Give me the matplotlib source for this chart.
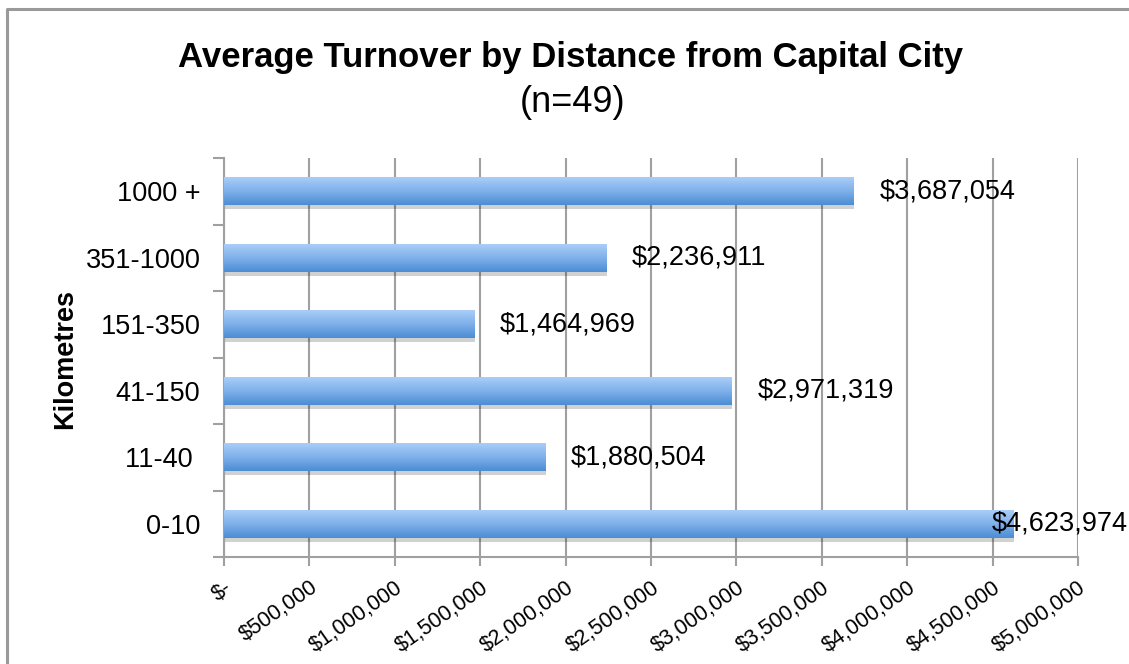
import numpy as np
import matplotlib
matplotlib.use("Agg")
from matplotlib import pyplot as plt
from matplotlib.colors import LinearSegmentedColormap
from matplotlib.ticker import FixedLocator, FuncFormatter
import matplotlib.patheffects as pe
from matplotlib.lines import Line2D

#####################################################################
# Data
#####################################################################

categories = ["0-10", "11-40 ", "41-150", "151-350", "351-1000", "1000 +"]
turnover = [4623974, 1880504, 2971319, 1464969, 2236911, 3687054]
xticks = [0, 500000, 1000000, 1500000, 2000000, 2500000, 3000000,
          3500000, 4000000, 4500000, 5000000]

plt.rcParams["font.family"] = ["Liberation Sans", "DejaVu Sans"]

fig = plt.figure(figsize=(11.29, 6.64), dpi=100)
ax = fig.add_axes([224 / 1129, 1 - 557 / 664, (1078 - 224) / 1129, (557 - 158) / 664])

y = np.arange(len(categories))
bh = 0.42
grad = LinearSegmentedColormap.from_list("g", ["#4b8dd4", "#7fb0ea", "#a9cdf8"])

bars = ax.barh(y, turnover, height=bh, color="#7aaee8", zorder=3,
               path_effects=[pe.SimplePatchShadow(offset=(0.5, -3), shadow_rgbFace="#000000", alpha=0.18),
                             pe.Normal()])
g = np.linspace(0, 1, 64).reshape(-1, 1)
for b, v, yi in zip(bars, turnover, y):
    im = ax.imshow(g, cmap=grad, origin="lower", aspect="auto", zorder=4,
                   extent=(0, v, yi - bh / 2, yi + bh / 2), interpolation="bilinear")
    im.set_clip_path(b)

    if v > 4300000:
        dx = -22
    else:
        dx = 26
    ax.annotate("${:,}".format(v), xy=(v, yi), xytext=(dx * 0.72, 0),
                textcoords="offset points", ha="left", va="center",
                fontsize=19.5, zorder=6, annotation_clip=False)

ax.set_xlim(0, 5000000)
ax.set_ylim(-0.5, len(categories) - 0.5)

# x axis
ax.xaxis.set_major_locator(FixedLocator(xticks))
ax.xaxis.set_major_formatter(FuncFormatter(lambda v, p: "$-" if v == 0 else "${:,.0f}".format(v)))
ax.tick_params(axis="x", which="major", length=6.5, width=1.5, color="#a0a0a0",
               labelsize=15.5, pad=8)
plt.setp(ax.get_xticklabels(), rotation=35, ha="right", va="top", rotation_mode="anchor")
ax.grid(True, axis="x", color="#a0a0a0", linewidth=1.5, zorder=0)
ax.set_axisbelow(True)

# y axis
ax.set_yticks(y)
ax.set_yticklabels(categories)
ax.yaxis.set_minor_locator(FixedLocator(np.arange(-0.5, len(categories), 1.0)))
ax.tick_params(axis="y", which="major", length=0, labelsize=19.5, pad=17)
ax.tick_params(axis="y", which="minor", length=8, width=1.5, color="#a0a0a0")

for s in ["top", "right"]:
    ax.spines[s].set_visible(False)
for s in ["left", "bottom"]:
    ax.spines[s].set_color("#a0a0a0")
    ax.spines[s].set_linewidth(1.5)

fig.text(65 / 1129, 1 - 359 / 664, "Kilometres", rotation=90, ha="center", va="center",
         fontsize=19.5, fontweight="bold")
fig.text(571 / 1129, 1 - 58 / 664, "Average Turnover by Distance from Capital City",
         ha="center", va="center", fontsize=25, fontweight="bold")
fig.text(573 / 1129, 1 - 103 / 664, "(n=49)", ha="center", va="center", fontsize=26)

# chart border
fig.add_artist(Line2D([7 / 1129, 7 / 1129, 1], [0, 1 - 8.5 / 664, 1 - 8.5 / 664],
                      transform=fig.transFigure, color="#9a9a9a", linewidth=2.2))

fig.savefig("out.png", dpi=100)
